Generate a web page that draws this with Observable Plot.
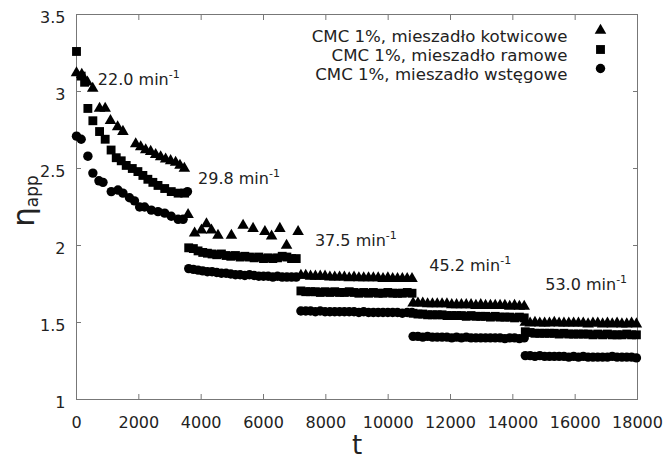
<!DOCTYPE html>
<html>
<head>
<meta charset="utf-8">
<script src="https://cdn.jsdelivr.net/npm/d3@7"></script>
<script src="https://cdn.jsdelivr.net/npm/@observablehq/plot@0.6"></script>
<style>
  html, body { margin: 0; padding: 0; background: #fff; }
  #chart { width: 666px; height: 459px; }
</style>
</head>
<body>
<div id="chart"></div>
<script>
// ---------- data ----------
const xTicks = [0, 2000, 4000, 6000, 8000, 10000, 12000, 14000, 16000, 18000];
const yTicks = [1, 1.5, 2, 2.5, 3, 3.5];

const seriesNames = ["CMC 1%, mieszadło kotwicowe", "CMC 1%, mieszadło ramowe", "CMC 1%, mieszadło wstęgowe"];
const speedLabels = ["22.0 min⁻¹", "29.8 min⁻¹", "37.5 min⁻¹", "45.2 min⁻¹", "53.0 min⁻¹"];
const speedT = [685, 3900, 7650, 11320, 15040];
const speedEta = [3.075, 2.43, 2.03, 1.865, 1.745];

// sampling times of the dense stages
const seg2T = [3600,3750,3900,4050,4200,4350,4500,4650,4800,4950,5100,5250,5400,5550,5700,5850,6000,6150,6300,6450,6600,6750,6900,7050];
const seg3T = [7200,7355,7510,7665,7820,7975,8130,8285,8440,8595,8750,8905,9060,9215,9370,9525,9680,9835,9990,10145,10300,10455,10610,10765];
const seg4T = [10800,10955,11110,11265,11420,11575,11730,11885,12040,12195,12350,12505,12660,12815,12970,13125,13280,13435,13590,13745,13900,14055,14210,14365];
const seg5T = [14400,14555,14710,14865,15020,15175,15330,15485,15640,15795,15950,16105,16260,16415,16570,16725,16880,17035,17190,17345,17500,17655,17810,17965];

// anchor impeller (triangles)
const triT1 = [0,170,350,520,740,920,1090,1320,1490,1900,2060,2220,2380,2540,2700,2860,3020,3180,3320,3460,3580,3790,4010,4170,4330,4540,4970,5345,5665,6045,6260,6525,6740,7110];
const triEta1 = [3.12,3.11,3.06,3.02,2.89,2.89,2.81,2.77,2.74,2.66,2.64,2.62,2.61,2.59,2.575,2.56,2.55,2.54,2.52,2.50,2.20,2.08,2.10,2.14,2.10,2.065,2.065,2.13,2.11,2.09,2.06,2.11,2.00,2.09];
const triEta3 = [1.805,1.805,1.80,1.80,1.80,1.80,1.795,1.795,1.795,1.795,1.79,1.795,1.79,1.79,1.79,1.79,1.79,1.785,1.79,1.785,1.785,1.785,1.785,1.785];
const triEta4 = [1.625,1.625,1.625,1.62,1.62,1.62,1.62,1.62,1.615,1.615,1.615,1.615,1.615,1.61,1.615,1.61,1.61,1.61,1.61,1.61,1.605,1.61,1.605,1.605];
const triEta5 = [1.50,1.495,1.50,1.495,1.495,1.495,1.50,1.495,1.495,1.495,1.495,1.495,1.495,1.49,1.495,1.495,1.49,1.495,1.49,1.495,1.49,1.49,1.495,1.49];

// frame impeller (squares)
const sqT1 = [0,150,260,365,525,740,920,1110,1275,1435,1595,1790,1970,2130,2290,2450,2615,2830,3040,3260,3470];
const sqEta1 = [3.26,3.10,3.06,2.89,2.81,2.74,2.69,2.62,2.57,2.55,2.52,2.50,2.48,2.455,2.43,2.41,2.39,2.37,2.35,2.34,2.34];
const sqEta2 = [1.985,1.98,1.965,1.955,1.95,1.945,1.94,1.945,1.935,1.93,1.935,1.925,1.93,1.925,1.92,1.925,1.915,1.92,1.915,1.92,1.93,1.925,1.915,1.915];
const sqEta3 = [1.705,1.70,1.70,1.70,1.695,1.70,1.695,1.70,1.695,1.695,1.70,1.695,1.69,1.695,1.69,1.695,1.69,1.69,1.695,1.69,1.69,1.69,1.695,1.69];
const sqEta4 = [1.56,1.555,1.555,1.55,1.55,1.55,1.55,1.545,1.545,1.545,1.545,1.54,1.545,1.54,1.54,1.54,1.535,1.54,1.535,1.535,1.535,1.53,1.535,1.53];
const sqEta5 = [1.44,1.435,1.43,1.43,1.43,1.43,1.43,1.425,1.43,1.425,1.425,1.425,1.425,1.425,1.42,1.425,1.42,1.425,1.42,1.42,1.42,1.425,1.42,1.42];

// ribbon impeller (circles)
const cirT1 = [0,150,365,525,720,850,1115,1330,1490,1700,1860,2025,2185,2400,2615,2830,3040,3260,3420,3560];
const cirEta1 = [2.71,2.69,2.58,2.47,2.42,2.41,2.35,2.36,2.34,2.31,2.29,2.25,2.25,2.23,2.22,2.21,2.19,2.17,2.17,2.35];
const cirEta2 = [1.85,1.845,1.84,1.835,1.83,1.83,1.825,1.82,1.82,1.815,1.81,1.81,1.805,1.81,1.805,1.80,1.80,1.80,1.795,1.80,1.795,1.795,1.795,1.795];
const cirEta3 = [1.575,1.575,1.575,1.57,1.575,1.57,1.57,1.57,1.57,1.57,1.57,1.57,1.565,1.57,1.565,1.565,1.565,1.565,1.565,1.565,1.565,1.56,1.565,1.565];
const cirEta4 = [1.41,1.41,1.405,1.41,1.405,1.405,1.405,1.405,1.40,1.405,1.40,1.405,1.40,1.40,1.40,1.40,1.40,1.40,1.40,1.395,1.40,1.40,1.395,1.40];
const cirEta5 = [1.285,1.285,1.28,1.285,1.28,1.28,1.28,1.28,1.28,1.275,1.28,1.275,1.28,1.275,1.275,1.275,1.275,1.275,1.28,1.275,1.275,1.275,1.275,1.27];

// ---------- build tables ----------
const rows = (ts, es) => ts.map((t, i) => ({t, eta: es[i]}));
const triData = [...rows(triT1, triEta1), ...rows(seg3T, triEta3), ...rows(seg4T, triEta4), ...rows(seg5T, triEta5)];
const sqData = [...rows(sqT1, sqEta1), ...rows(seg2T, sqEta2), ...rows(seg3T, sqEta3), ...rows(seg4T, sqEta4), ...rows(seg5T, sqEta5)];
const cirData = [...rows(cirT1, cirEta1), ...rows(seg2T, cirEta2), ...rows(seg3T, cirEta3), ...rows(seg4T, cirEta4), ...rows(seg5T, cirEta5)];
const speedData = speedLabels.map((s, i) => ({s, t: speedT[i], eta: speedEta[i]}));

const symbols = ["triangle", "square", "circle"];
const radii = [4.3, 5.0, 4.7];
const textColor = "#222";
const axisColor = "#777";

const legendMarks = seriesNames.flatMap((name, i) => [
  Plot.text([name], {frameAnchor: "top-right", dx: -70, dy: 16 + 19 * i, textAnchor: "end", fontSize: 16.6, fill: textColor}),
  Plot.dot([0], {frameAnchor: "top-right", dx: -37, dy: 16 + 19 * i, symbol: symbols[i], r: radii[i], fill: "black", stroke: "none"})
]);

const chart = Plot.plot({
  width: 666,
  height: 459,
  marginLeft: 76,
  marginRight: 29,
  marginTop: 14,
  marginBottom: 60,
  style: {fontFamily: "DejaVu Sans", fontSize: "16px", background: "white", color: textColor},
  x: {domain: [0, 18000]},
  y: {domain: [1, 3.5]},
  marks: [
    Plot.frame({stroke: axisColor}),
    Plot.axisX({anchor: "bottom", ticks: xTicks, tickSize: 0, tickPadding: 17, tickFormat: d => String(d), label: null, fontSize: 16, fill: textColor}),
    Plot.axisX({anchor: "bottom", ticks: xTicks, tickSize: -5, tickFormat: () => "", label: null, stroke: axisColor}),
    Plot.axisX({anchor: "top", ticks: xTicks, tickSize: -5, tickFormat: () => "", label: null, stroke: axisColor}),
    Plot.axisY({anchor: "left", ticks: yTicks, tickSize: 0, tickPadding: 11, tickFormat: d => String(d), label: null, fontSize: 16, fill: textColor, dy: 3}),
    Plot.axisY({anchor: "left", ticks: yTicks, tickSize: -5, tickFormat: () => "", label: null, stroke: axisColor}),
    Plot.axisY({anchor: "right", ticks: yTicks, tickSize: -5, tickFormat: () => "", label: null, stroke: axisColor}),
    Plot.dot(cirData, {x: "t", y: "eta", symbol: "circle", r: radii[2], fill: "black", stroke: "none"}),
    Plot.dot(sqData, {x: "t", y: "eta", symbol: "square", r: radii[1], fill: "black", stroke: "none"}),
    Plot.dot(triData, {x: "t", y: "eta", symbol: "triangle", r: radii[0], fill: "black", stroke: "none"}),
    Plot.text(speedData, {x: "t", y: "eta", text: "s", textAnchor: "start", fontSize: 16, fill: textColor}),
    ...legendMarks,
    Plot.text(["t"], {frameAnchor: "bottom", dy: 54, fontSize: 26, fill: textColor})
  ]
});

document.getElementById("chart").appendChild(chart);

const svg = d3.select(chart);

// render the "⁻¹" of the speed labels as a real superscript
svg.selectAll("text").filter(function () {
  return this.childElementCount === 0 && this.textContent.includes("⁻¹");
}).each(function () {
  const base = this.textContent.replace("⁻¹", "");
  const sel = d3.select(this);
  sel.text(base);
  sel.append("tspan").attr("font-size", 11).attr("dy", -7).text("-1");
});

// rotated y-axis label with subscript
const yl = svg.append("text")
  .attr("transform", "translate(34,201) rotate(-90)")
  .attr("text-anchor", "middle")
  .attr("fill", textColor)
  .attr("font-family", "DejaVu Sans");
yl.append("tspan").attr("font-size", 31).text("η");
yl.append("tspan").attr("font-size", 17).attr("dy", 4).text("app");
</script>
</body>
</html>
